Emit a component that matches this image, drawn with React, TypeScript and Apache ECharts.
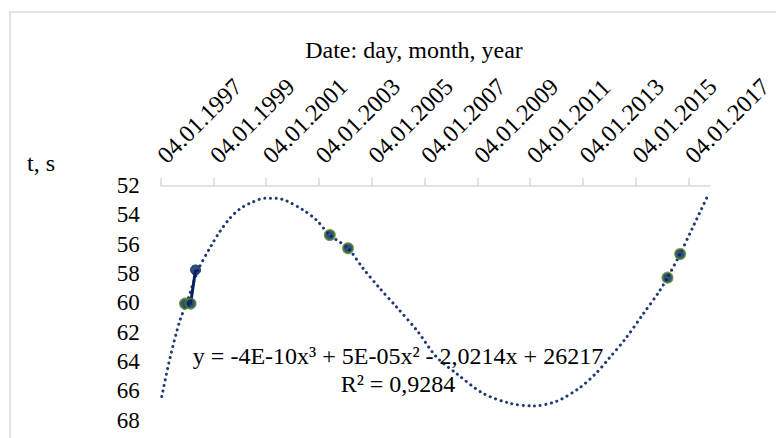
import React, { useEffect, useRef } from "react";
import * as echarts from "echarts";

// X tick labels (date axis, every 2 years)
const xTickLabels = [
  "04.01.1997", "04.01.1999", "04.01.2001", "04.01.2003", "04.01.2005", "04.01.2007",
  "04.01.2009", "04.01.2011", "04.01.2013", "04.01.2015", "04.01.2017",
];
const xAxisMinYear = 1997;
const xAxisMaxYear = 2017.82;

// Y axis (inverted), seconds
const yMin = 52;
const yMax = 68;
const yStep = 2;

// Measured points (decimal year, t in s)
const measuredYears = [1997.92, 1998.135, 1998.32, 2003.41, 2004.1, 2016.21, 2016.69];
const measuredTimes = [60.05, 60.05, 57.75, 55.37, 56.27, 58.28, 56.66];
// groups of consecutive points joined by a solid line
const joinedGroups = [[0, 1, 2]];

// Polynomial trendline
const trendYears = [
  1997.04, 1997.35, 1997.73, 1997.98, 1998.42, 1998.93, 1999.24, 1999.62, 2000.0, 2000.38,
  2000.95, 2001.39, 2001.77, 2002.4, 2002.9, 2003.41, 2004.1, 2004.67, 2005.3, 2005.93,
  2006.75, 2007.44, 2008.2, 2009.21, 2010.22, 2011.1, 2011.98, 2012.86, 2013.5, 2014.0,
  2014.63, 2015.26, 2015.89, 2016.21, 2016.69, 2017.15, 2017.72,
];
const trendTimes = [
  66.4, 63.78, 61.2, 60.03, 57.75, 56.05, 55.14, 54.23, 53.59, 53.2,
  52.86, 52.86, 53.04, 53.66, 54.34, 55.37, 56.27, 57.64, 59.0, 60.26,
  61.97, 63.67, 64.81, 66.17, 66.85, 67.04, 66.74, 65.83, 64.81, 63.78,
  62.42, 60.83, 59.24, 58.28, 56.66, 54.91, 52.75,
];

const titleText = "Date: day, month, year";
const yNameText = "t, s";
const equationText = "y = -4E-10x³ + 5E-05x² - 2,0214x + 26217";
const r2Text = "R² = 0,9284";

const FONT = "Liberation Serif";
const NAVY = "#002060";
const TREND = "#1f3a70";
const GREEN = "#4f7f2a";
const plainMarkerIndex = [2];

export default function App() {
  const ref = useRef<HTMLDivElement>(null);
  useEffect(() => {
    document.body.style.margin = "0";
    const chart = echarts.init(ref.current!, null, { renderer: "svg" });
    const tickYears = xTickLabels.map((s) => Number(s.split(".")[2]));
    const labelFor: Record<number, string> = {};
    tickYears.forEach((y, i) => (labelFor[y] = xTickLabels[i]));

    const lineSeries = joinedGroups.map((g) => ({
      type: "line",
      data: g.map((i) => [measuredYears[i], measuredTimes[i]]),
      showSymbol: false,
      symbol: "none",
      lineStyle: { color: NAVY, width: 3 },
      z: 3,
      silent: true,
    }));

    const textBase = { fontFamily: FONT, fontSize: 24, fill: "#000" };

    chart.setOption({
      animation: false,
      textStyle: { fontFamily: FONT },
      grid: { left: 160.7, right: 65, top: 185.7, bottom: 18 },
      xAxis: {
        type: "value",
        position: "top",
        min: xAxisMinYear,
        max: xAxisMaxYear,
        axisLine: { show: true, onZero: false, lineStyle: { color: "#d9d9d9", width: 1.5 } },
        axisTick: {
          show: true,
          customValues: tickYears,
          length: 8,
          lineStyle: { color: "#d9d9d9", width: 1.5 },
        },
        splitLine: { show: false },
        axisLabel: {
          customValues: tickYears,
          rotate: -45,
          align: "left",
          verticalAlign: "bottom",
          margin: 9,
          padding: [0, 0, 0, 13],
          fontFamily: FONT,
          fontSize: 24,
          color: "#000",
          formatter: (v: number) => labelFor[Math.round(v)] ?? "",
        },
      },
      yAxis: {
        type: "value",
        inverse: true,
        min: yMin,
        max: yMax,
        interval: yStep,
        axisLine: { show: false },
        axisTick: { show: false },
        splitLine: { show: false },
        axisLabel: {
          margin: 21,
          fontFamily: FONT,
          fontSize: 23,
          color: "#000",
        },
      },
      series: [
        {
          type: "line",
          data: trendYears.map((x, i) => [x, trendTimes[i]]),
          smooth: 0.3,
          symbol: "none",
          showSymbol: false,
          lineStyle: { color: TREND, width: 3, type: [0.1, 5.6], cap: "round" },
          z: 2,
          silent: true,
        },
        ...lineSeries,
        {
          type: "scatter",
          data: measuredYears.map((x, i) => ({
            value: [x, measuredTimes[i]],
            itemStyle: plainMarkerIndex.includes(i)
              ? { color: NAVY, borderColor: NAVY, borderWidth: 1 }
              : { color: NAVY, borderColor: GREEN, borderWidth: 2 },
          })),
          symbol: "circle",
          symbolSize: 10,
          z: 4,
          silent: true,
        },
      ],
      graphic: [
        {
          type: "rect",
          shape: { x: 10, y: 12, width: 900, height: 600 },
          style: { fill: "none", stroke: "#d9d9d9", lineWidth: 1.5 },
          z: -1,
          silent: true,
        },
        {
          type: "text",
          x: 414,
          y: 50,
          style: { ...textBase, text: titleText, textAlign: "center", textVerticalAlign: "middle" },
        },
        {
          type: "text",
          x: 27,
          y: 163,
          style: { ...textBase, text: yNameText, textAlign: "left", textVerticalAlign: "middle" },
        },
        {
          type: "text",
          x: 398,
          y: 355.5,
          z: 100,
          style: { ...textBase, text: equationText, textAlign: "center", textVerticalAlign: "middle" },
        },
        {
          type: "text",
          x: 398,
          y: 384,
          z: 100,
          style: { ...textBase, text: r2Text, textAlign: "center", textVerticalAlign: "middle" },
        },
      ],
    });
    return () => chart.dispose();
  }, []);
  return <div ref={ref} style={{ width: 776, height: 438 }} />;
}
